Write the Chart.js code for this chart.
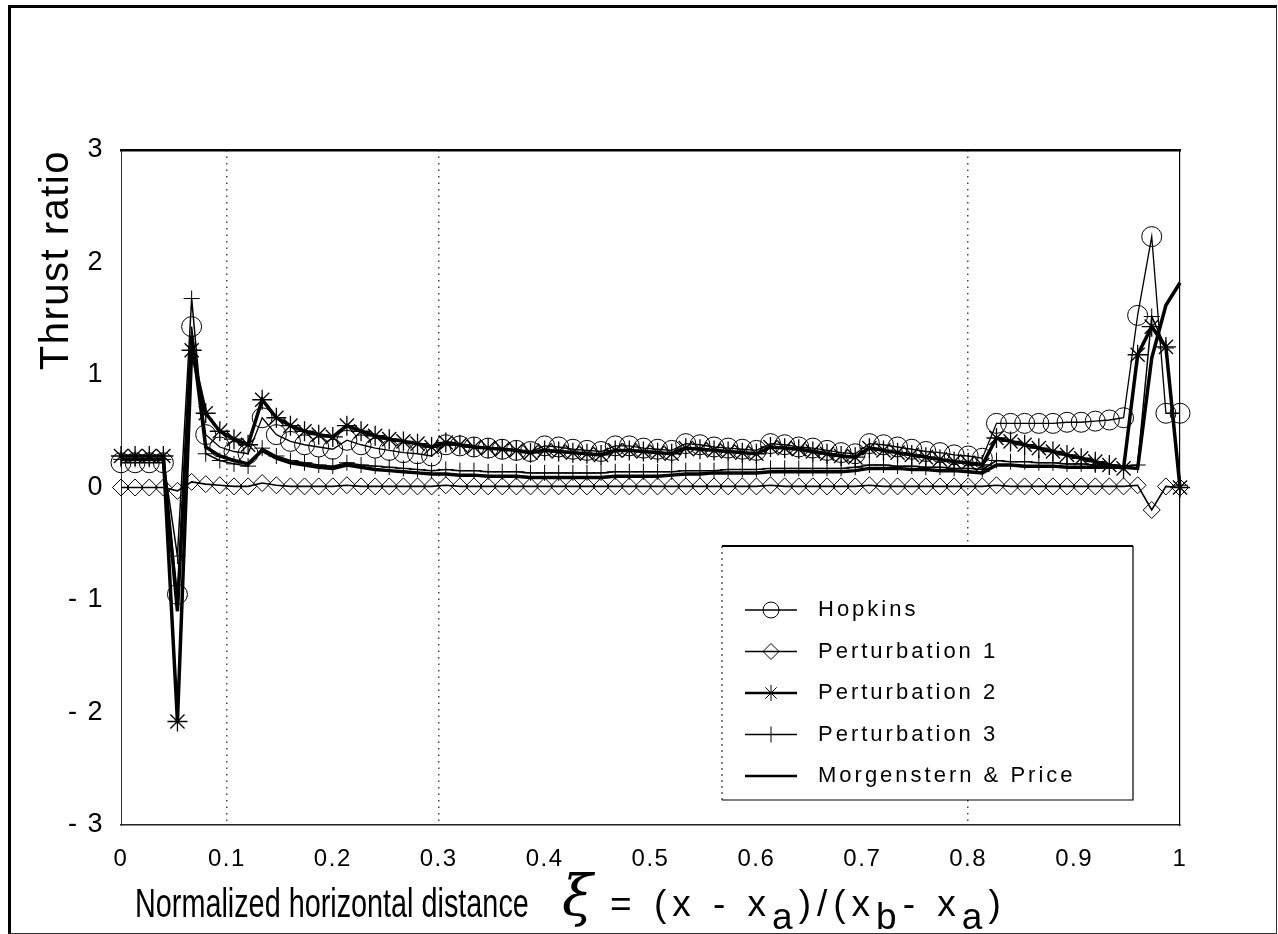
<!DOCTYPE html>
<html><head><meta charset="utf-8">
<script src="https://cdn.jsdelivr.net/npm/chart.js@4.4.1/dist/chart.umd.min.js"></script>
<style>
html,body{margin:0;padding:0;background:#fff;width:1278px;height:934px;overflow:hidden;}
body{position:relative;font-family:"Liberation Sans",Arial,sans-serif;color:#000;}
#c{position:absolute;left:0;top:0;}
#frame{position:absolute;left:8px;top:5px;width:1265px;height:925px;border-top:3px solid #000;border-left:3px solid #000;border-right:1px solid #333;border-bottom:1px solid #333;pointer-events:none;}
.xt{position:absolute;white-space:nowrap;line-height:40px;}
#xt1{left:135px;top:883px;font-size:40px;transform:scaleX(0.72);transform-origin:0 50%;}
#xi{left:562px;top:868px;font-size:56px;line-height:56px;font-family:"DejaVu Serif",serif;font-style:italic;}
#xf{left:610px;top:884px;font-size:37px;letter-spacing:6px;}
#xf sub{font-size:1em;vertical-align:-0.34em;line-height:0;}
</style></head>
<body>
<canvas id="c" width="1278" height="934"></canvas>
<div id="frame"></div>
<div class="xt" id="xt1">Normalized horizontal distance</div>
<div class="xt" id="xi">ξ</div>
<div class="xt" id="xf">= (x - x<sub>a</sub>)/(x<sub>b</sub>- x<sub>a</sub>)</div>
<script>
// ---- data ----
const xPos = [0, 0.0133, 0.0267, 0.04, 0.0533, 0.0667, 0.08, 0.0933, 0.1067, 0.12,
  0.1333, 0.1467, 0.16, 0.1733, 0.1867, 0.2, 0.2133, 0.2267, 0.24, 0.2533,
  0.2667, 0.28, 0.2933, 0.3067, 0.32, 0.3333, 0.3467, 0.36, 0.3733, 0.3867,
  0.4, 0.4133, 0.4267, 0.44, 0.4533, 0.4667, 0.48, 0.4933, 0.5067, 0.52,
  0.5333, 0.5467, 0.56, 0.5733, 0.5867, 0.6, 0.6133, 0.6267, 0.64, 0.6533,
  0.6667, 0.68, 0.6933, 0.7067, 0.72, 0.7333, 0.7467, 0.76, 0.7733, 0.7867,
  0.8, 0.8133, 0.8267, 0.84, 0.8533, 0.8667, 0.88, 0.8933, 0.9067, 0.92,
  0.9333, 0.9467, 0.96, 0.9733, 0.9867, 1];

const hopkins = [0.22, 0.22, 0.22, 0.22, -0.95, 1.43, 0.47, 0.36, 0.32, 0.3,
  0.62, 0.47, 0.41, 0.38, 0.36, 0.34, 0.42, 0.38, 0.35, 0.33,
  0.31, 0.3, 0.28, 0.38, 0.37, 0.36, 0.35, 0.34, 0.33, 0.32,
  0.37, 0.36, 0.34, 0.33, 0.32, 0.37, 0.37, 0.35, 0.34, 0.33,
  0.39, 0.38, 0.36, 0.35, 0.34, 0.33, 0.39, 0.38, 0.36, 0.35,
  0.33, 0.31, 0.3, 0.39, 0.38, 0.36, 0.34, 0.32, 0.31, 0.29,
  0.28, 0.26, 0.57, 0.57, 0.57, 0.57, 0.57, 0.58, 0.58, 0.59,
  0.6, 0.62, 1.53, 2.23, 0.66, 0.66];

const perturbation1 = [0, 0, 0, 0, -0.03, 0.05, 0.03, 0.02, 0.01, 0.01,
  0.04, 0.02, 0.01, 0.01, 0.01, 0.01, 0.02, 0.01, 0.01, 0.01,
  0.01, 0.01, 0.01, 0.02, 0.01, 0.01, 0.01, 0.01, 0.01, 0.01,
  0.01, 0.01, 0.01, 0.01, 0.01, 0.01, 0.01, 0.01, 0.01, 0.01,
  0.01, 0.01, 0.01, 0.01, 0.01, 0.01, 0.02, 0.01, 0.01, 0.01,
  0.01, 0.01, 0.01, 0.02, 0.01, 0.01, 0.01, 0.01, 0.01, 0.01,
  0.01, 0.01, 0.02, 0.01, 0.01, 0.01, 0.01, 0.01, 0.01, 0.01,
  0.01, 0.01, 0.02, -0.2, 0.01, 0];

const perturbation2 = [0.28, 0.28, 0.28, 0.28, -2.08, 1.22, 0.66, 0.5, 0.43, 0.38,
  0.78, 0.62, 0.55, 0.5, 0.47, 0.45, 0.55, 0.5, 0.46, 0.43,
  0.41, 0.39, 0.36, 0.4, 0.38, 0.36, 0.35, 0.34, 0.33, 0.31,
  0.33, 0.32, 0.31, 0.3, 0.29, 0.33, 0.33, 0.32, 0.31, 0.3,
  0.35, 0.34, 0.33, 0.32, 0.31, 0.3, 0.36, 0.35, 0.34, 0.32,
  0.3, 0.28, 0.27, 0.35, 0.33, 0.31, 0.29, 0.27, 0.25, 0.23,
  0.22, 0.2, 0.44, 0.41, 0.38, 0.35, 0.32, 0.29, 0.26, 0.23,
  0.2, 0.17, 1.18, 1.43, 1.25, 0];

const perturbation3 = [0.25, 0.25, 0.25, 0.25, -0.61, 1.68, 0.3, 0.24, 0.21, 0.19,
  0.35, 0.28, 0.24, 0.22, 0.2, 0.19, 0.22, 0.2, 0.19, 0.18,
  0.17, 0.16, 0.15, 0.16, 0.15, 0.15, 0.14, 0.14, 0.14, 0.13,
  0.13, 0.13, 0.13, 0.13, 0.13, 0.14, 0.14, 0.14, 0.14, 0.14,
  0.15, 0.15, 0.15, 0.16, 0.16, 0.16, 0.17, 0.17, 0.17, 0.17,
  0.17, 0.17, 0.18, 0.2, 0.2, 0.19, 0.19, 0.18, 0.18, 0.17,
  0.17, 0.16, 0.24, 0.23, 0.23, 0.22, 0.22, 0.21, 0.21, 0.2,
  0.2, 0.19, 0.2, 1.52, 1.24, 0.02];

const morgensternPrice = [0.25, 0.25, 0.25, 0.25, -1.1, 1.35, 0.36, 0.28, 0.24, 0.21,
  0.33, 0.26, 0.22, 0.2, 0.18, 0.17, 0.2, 0.18, 0.16, 0.15,
  0.14, 0.13, 0.12, 0.12, 0.11, 0.11, 0.1, 0.1, 0.1, 0.09,
  0.09, 0.09, 0.09, 0.09, 0.09, 0.1, 0.1, 0.1, 0.1, 0.11,
  0.12, 0.12, 0.13, 0.13, 0.13, 0.13, 0.14, 0.14, 0.14, 0.14,
  0.14, 0.14, 0.15, 0.17, 0.17, 0.17, 0.16, 0.16, 0.15, 0.15,
  0.14, 0.13, 0.2, 0.2, 0.19, 0.19, 0.19, 0.18, 0.18, 0.18,
  0.18, 0.18, 0.17, 1.15, 1.62, 1.82];

const seriesNames = ['Hopkins', 'Perturbation 1', 'Perturbation 2', 'Perturbation 3', 'Morgenstern & Price'];
const xTickValues = [0, 0.1, 0.2, 0.3, 0.4, 0.5, 0.6, 0.7, 0.8, 0.9, 1];
const yTickValues = [-3, -2, -1, 0, 1, 2, 3];
const dottedGridAt = [0.1, 0.3, 0.8];

// ---- chart ----
const toPoints = arr => arr.map((v, i) => ({x: xPos[i], y: v}));
const FONT = '"Liberation Sans", Arial, sans-serif';
const clear = 'rgba(0,0,0,0)';

const baseDs = {borderColor: '#000', pointBorderColor: '#000', pointBackgroundColor: clear,
  backgroundColor: clear, fill: false, tension: 0, clip: false, pointBorderWidth: 1};

const datasets = [
  Object.assign({}, baseDs, {label: seriesNames[0], data: toPoints(hopkins), borderWidth: 1.3, pointStyle: 'circle', pointRadius: 10}),
  Object.assign({}, baseDs, {label: seriesNames[1], data: toPoints(perturbation1), borderWidth: 1.6, pointStyle: 'rectRot', pointRadius: 8.5}),
  Object.assign({}, baseDs, {label: seriesNames[2], data: toPoints(perturbation2), borderWidth: 3.5, pointStyle: 'star', pointRadius: 10, pointBorderWidth: 1.3}),
  Object.assign({}, baseDs, {label: seriesNames[3], data: toPoints(perturbation3), borderWidth: 1.5, pointStyle: 'cross', pointRadius: 8}),
  Object.assign({}, baseDs, {label: seriesNames[4], data: toPoints(morgensternPrice), borderWidth: 3.5, pointRadius: 0, pointStyle: 'line'})
];

const spacingPlugin = {
  id: 'spacing',
  beforeDraw(c) { c.ctx.letterSpacing = '1.5px'; },
  beforeDatasetsDraw(c) { c.ctx.letterSpacing = '0px'; }
};

const legendBox = {
  id: 'legendBox',
  afterDraw(chart) {
    const ctx = chart.ctx;
    const L = 722, T = 546, R = 1133, B = 800;
    ctx.save();
    ctx.fillStyle = '#fff';
    ctx.fillRect(L, T, R - L, B - T);
    ctx.strokeStyle = '#000';
    ctx.lineWidth = 2;
    ctx.beginPath(); ctx.moveTo(L, T); ctx.lineTo(R, T); ctx.stroke();
    ctx.lineWidth = 1.2;
    ctx.beginPath(); ctx.moveTo(R, T); ctx.lineTo(R, B); ctx.lineTo(L, B); ctx.stroke();
    ctx.setLineDash([2, 4]); ctx.lineWidth = 1;
    ctx.beginPath(); ctx.moveTo(L, T); ctx.lineTo(L, B); ctx.stroke();
    ctx.setLineDash([]);
    chart.data.datasets.forEach((ds, i) => {
      const y = 610 + i * 41.5;
      ctx.strokeStyle = '#000';
      ctx.lineWidth = Math.min(ds.borderWidth, 2.5);
      ctx.beginPath(); ctx.moveTo(745, y); ctx.lineTo(797, y); ctx.stroke();
      if (ds.pointRadius > 0) {
        ctx.lineWidth = 1;
        ctx.fillStyle = clear;
        Chart.helpers.drawPoint(ctx, {pointStyle: ds.pointStyle, radius: 8, rotation: 0, borderWidth: 1}, 771, y);
      }
      ctx.fillStyle = '#000';
      ctx.letterSpacing = '3px';
      ctx.font = '22px ' + FONT;
      ctx.textBaseline = 'middle';
      ctx.textAlign = 'left';
      ctx.fillText(ds.label, 818, y);
    });
    ctx.restore();
  }
};

new Chart(document.getElementById('c'), {
  type: 'line',
  data: {datasets},
  plugins: [spacingPlugin, legendBox],
  options: {
    responsive: false,
    animation: false,
    devicePixelRatio: 1,
    layout: {padding: {left: 0, right: 98, top: 150, bottom: 0}},
    plugins: {legend: {display: false}, tooltip: {enabled: false}},
    scales: {
      x: {
        type: 'linear', position: 'bottom', min: 0, max: 1,
        afterFit(s) { s.height = 109; },
        afterBuildTicks(s) { s.ticks = xTickValues.map(v => ({value: v})); },
        ticks: {
          padding: 20, color: '#000', font: {family: FONT, size: 24},
          maxRotation: 0, autoSkip: false,
          callback: v => (v === 0 || v === 1) ? String(v) : v.toFixed(1)
        },
        grid: {
          drawTicks: false, lineWidth: 1.5,
          color: c => (c.tick && dottedGridAt.some(d => Math.abs(d - c.tick.value) < 1e-6)) ? '#444' : clear
        },
        border: {display: true, color: '#222', width: 1.5, dash: [1.5, 5]}
      },
      y: {
        type: 'linear', position: 'left', min: -3, max: 3,
        afterFit(s) { s.width = 121; },
        afterBuildTicks(s) { s.ticks = yTickValues.map(v => ({value: v})); },
        ticks: {
          padding: 17, color: '#000', font: {family: FONT, size: 27},
          callback: v => v < 0 ? '- ' + (-v) : String(v)
        },
        grid: {display: false, drawTicks: false},
        border: {display: true, color: '#333', width: 1},
        title: {display: true, text: 'Thrust ratio', color: '#000', align: 'end',
          font: {family: FONT, size: 40}, padding: {top: 33, bottom: 0}}
      },
      xTop: {
        type: 'linear', position: 'top', min: 0, max: 1,
        afterFit(s) { s.height = 0; },
        ticks: {display: false}, grid: {display: false, drawTicks: false},
        border: {display: true, color: '#000', width: 2.5}
      },
      yRight: {
        type: 'linear', position: 'right', min: -3, max: 3,
        afterFit(s) { s.width = 0; },
        ticks: {display: false}, grid: {display: false, drawTicks: false},
        border: {display: true, color: '#000', width: 1.2}
      }
    }
  }
});
</script>
</body></html>
